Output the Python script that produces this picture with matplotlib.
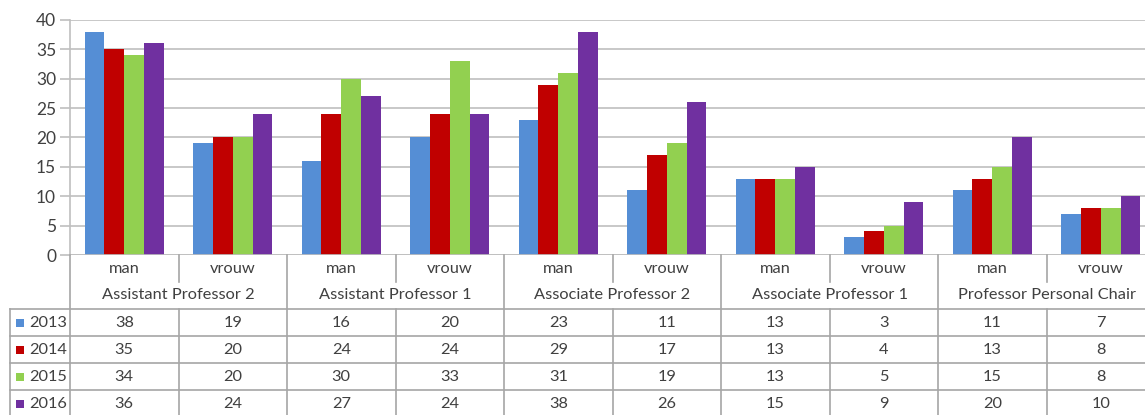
import matplotlib
matplotlib.use("Agg")
import matplotlib.pyplot as plt
import numpy as np

groups = ["Assistant Professor 2", "Assistant Professor 1", "Associate Professor 2",
          "Associate Professor 1", "Professor Personal Chair"]
genders = ["man", "vrouw"]
years = ["2013", "2014", "2015", "2016"]
v2013 = [38, 19, 16, 20, 23, 11, 13, 3, 11, 7]
v2014 = [35, 20, 24, 24, 29, 17, 13, 4, 13, 8]
v2015 = [34, 20, 30, 33, 31, 19, 13, 5, 15, 8]
v2016 = [36, 24, 27, 24, 38, 26, 15, 9, 20, 10]
series = [v2013, v2014, v2015, v2016]
colors = ["#558ED5", "#C00000", "#92D050", "#7030A0"]

plt.rcParams['font.family'] = ['Lato', 'DejaVu Sans']
W, H = 1145, 415
fig = plt.figure(figsize=(W / 100, H / 100), dpi=100)

x0, colw = 70, 108.5          # left edge of first column, column width (px)
ytop, ybot = 20, 255          # plot area in image px
xr = -0.5 + (W - x0) / colw

ax = fig.add_axes([x0 / W, (H - ybot) / H, (W - x0) / W, (ybot - ytop) / H])
n = len(v2013)
x = np.arange(n)
bw = 0.1825
for i, (vals, c) in enumerate(zip(series, colors)):
    ax.bar(x + (i - 1.5) * bw, vals, width=bw, color=c, zorder=3, linewidth=0)

ax.set_xlim(-0.5, xr)
ax.set_ylim(0, 40)
ax.set_yticks(range(0, 41, 5))
ax.grid(axis='y', color='#BFBFBF', linewidth=1.2, zorder=0)
for s in ['top', 'right', 'bottom']:
    ax.spines[s].set_visible(False)
ax.spines['left'].set_color('#BFBFBF')
ax.spines['left'].set_linewidth(1.2)
ax.set_xticks([])
ax.tick_params(axis='y', colors='#BFBFBF', length=7, width=1.2, labelsize=12.5,
               labelcolor='#404040', pad=3)
ax.axhline(0, color='#BFBFBF', linewidth=1.2, zorder=4)

# table area
tax = fig.add_axes([x0 / W, 0, (W - x0) / W, (H - ybot) / H])
tax.set_xlim(-0.5, xr)
tax.set_ylim(H - ybot, 0)   # y = image px below plot bottom
tax.axis('off')

def px2x(p):
    return -0.5 + (p - x0) / colw

lc = '#A6A6A6'
lw = 1.2
tc = '#404040'
fs = 11.8

# category labels
for j in range(n):
    tax.text(j, 14, genders[j % 2], ha='center', va='center', fontsize=fs, color=tc)
for g, name in enumerate(groups):
    tax.text(2 * g + 0.5, 40, name, ha='center', va='center', fontsize=fs, color=tc)

row_top = 54
row_h = 27
# vertical lines
for j in range(n + 1):
    xb = j - 0.5
    if j % 2 == 0:
        tax.plot([xb, xb], [0, 165], color=lc, lw=lw, clip_on=False)
    else:
        tax.plot([xb, xb], [0, 27], color=lc, lw=lw, clip_on=False)
        tax.plot([xb, xb], [row_top, 165], color=lc, lw=lw, clip_on=False)
xl = px2x(10)
tax.plot([xl, xl], [row_top, 165], color=lc, lw=lw, clip_on=False)
for r in range(5):
    yy = row_top + r * row_h
    tax.plot([xl, xr + 1], [yy, yy], color=lc, lw=lw, clip_on=False)

for r, (yr, vals, c) in enumerate(zip(years, series, colors)):
    yc = row_top + r * row_h + row_h / 2
    tax.scatter([px2x(19.5)], [yc], marker='s', s=30, color=c, clip_on=False, linewidths=0)
    tax.text(px2x(29), yc, yr, ha='left', va='center', fontsize=fs, color=tc)
    for j, v in enumerate(vals):
        tax.text(j, yc, str(v), ha='center', va='center', fontsize=fs, color=tc)

fig.savefig("out.png", dpi=100, facecolor='white')
